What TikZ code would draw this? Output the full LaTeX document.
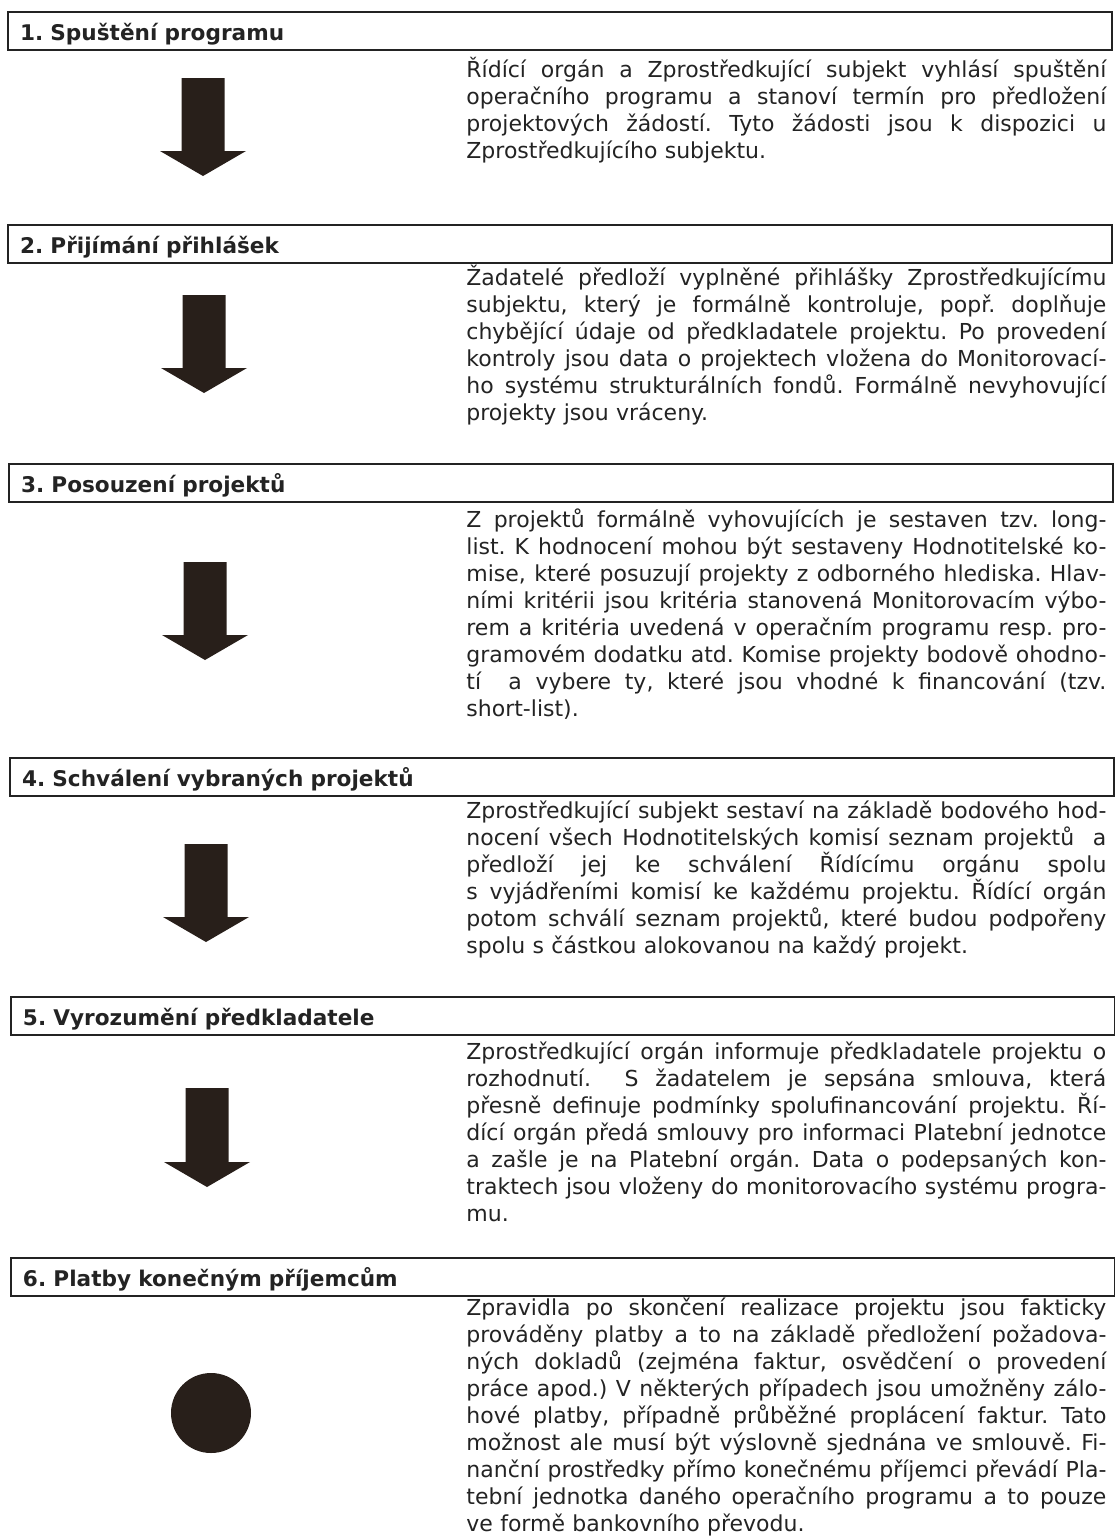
\documentclass[tikz,border=0pt]{standalone}
\usepackage{fontspec}
\setmainfont{DejaVu Sans}
\usetikzlibrary{positioning}

\definecolor{ink}{RGB}{35,35,35}
\definecolor{inkdark}{RGB}{40,31,26}

% one justified line of the step description
\newcommand{\jline}[1]{\makebox[320pt][s]{\spaceskip=0pt\xspaceskip=0pt #1}\\}

\begin{document}
\frenchspacing
\begin{tikzpicture}[
	x = 0.5pt, y = -0.5pt, % one unit = one pixel of the page
	hdr/.style={draw=ink, line width=1pt, anchor=north west, text width=540pt, align=left,
		inner xsep=6pt, inner ysep=0pt, minimum height=19pt, text height=10.5pt, text depth=1.5pt,
		font=\fontsize{10.8}{13}\selectfont\bfseries\frenchspacing, text=ink},
	txt/.style={anchor=base west, inner sep=0pt, text width=320pt, align=left,
		font=\fontsize{11}{13.5}\selectfont\frenchspacing, text=ink},
	blk/.style={fill=inkdark, draw=none},
	]
	\useasboundingbox (0,0) rectangle (1115,1539);

	% Step headers
	\node[hdr] (h1) at (7,11)   {1. Spuštění programu};
	\node[hdr] (h2) at (7,224)  {2. Přijímání přihlášek};
	\node[hdr] (h3) at (8,463)  {3. Posouzení projektů};
	\node[hdr] (h4) at (9,757)  {4. Schválení vybraných projektů};
	\node[hdr] (h5) at (10,996) {5. Vyrozumění předkladatele};
	\node[hdr] (h6) at (10,1257) {6. Platby konečným příjemcům};

	% Descriptions
	\node[txt] (t1) at (466,77) {%
		\jline{Řídící orgán a Zprostředkující subjekt vyhlásí spuštění}
		\jline{operačního programu a stanoví termín pro předložení}
		\jline{projektových žádostí. Tyto žádosti jsou k dispozici u}
		Zprostředkujícího subjektu.};
	\node[txt] (t2) at (466,285) {%
		\jline{Žadatelé předloží vyplněné přihlášky Zprostředkujícímu}
		\jline{subjektu, který je formálně kontroluje, popř. doplňuje}
		\jline{chybějící údaje od předkladatele projektu. Po provedení}
		\jline{kontroly jsou data o projektech vložena do Monitorovací-}
		\jline{ho systému strukturálních fondů. Formálně nevyhovující}
		projekty jsou vráceny.};
	\node[txt] (t3) at (466,527) {%
		\jline{Z projektů formálně vyhovujících je sestaven tzv. long-}
		\jline{list. K hodnocení mohou být sestaveny Hodnotitelské ko-}
		\jline{mise, které posuzují projekty z odborného hlediska. Hlav-}
		\jline{ními kritérii jsou kritéria stanovená Monitorovacím výbo-}
		\jline{rem a kritéria uvedená v operačním programu resp. pro-}
		\jline{gramovém dodatku atd. Komise projekty bodově ohodno-}
		\jline{tí\ \ a vybere ty, které jsou vhodné k financování (tzv.}
		short-list).};
	\node[txt] (t4) at (466,818) {%
		\jline{Zprostředkující subjekt sestaví na základě bodového hod-}
		\jline{nocení všech Hodnotitelských komisí seznam projektů\ \ a}
		\jline{předloží jej ke schválení Řídícímu orgánu spolu}
		\jline{s vyjádřeními komisí ke každému projektu. Řídící orgán}
		\jline{potom schválí seznam projektů, které budou podpořeny}
		spolu s částkou alokovanou na každý projekt.};
	\node[txt] (t5) at (466,1059) {%
		\jline{Zprostředkující orgán informuje předkladatele projektu o}
		\jline{rozhodnutí.\ \ S žadatelem je sepsána smlouva, která}
		\jline{přesně definuje podmínky spolufinancování projektu. Ří-}
		\jline{dící orgán předá smlouvy pro informaci Platební jednotce}
		\jline{a zašle je na Platební orgán. Data o podepsaných kon-}
		\jline{traktech jsou vloženy do monitorovacího systému progra-}
		mu.};
	\node[txt] (t6) at (466,1315) {%
		\jline{Zpravidla po skončení realizace projektu jsou fakticky}
		\jline{prováděny platby a to na základě předložení požadova-}
		\jline{ných dokladů (zejména faktur, osvědčení o provedení}
		\jline{práce apod.) V některých případech jsou umožněny zálo-}
		\jline{hové platby, případně průběžné proplácení faktur. Tato}
		\jline{možnost ale musí být výslovně sjednána ve smlouvě. Fi-}
		\jline{nanční prostředky přímo konečnému příjemci převádí Pla-}
		\jline{tební jednotka daného operačního programu a to pouze}
		ve formě bankovního převodu.};

	% Block arrows between the steps
	\foreach \ya/\yb/\xc in {78/176/203, 295/393/204, 562/660/205, 844/942/206, 1088/1187/207}
		\fill[blk] (\xc-21.5,\ya) -- (\xc+21.5,\ya) -- (\xc+21.5,\yb-25) -- (\xc+43,\yb-25)
			-- (\xc,\yb) -- (\xc-43,\yb-25) -- (\xc-21.5,\yb-25) -- cycle;

	% End of the process
	\node[circle, fill=inkdark, inner sep=0pt, minimum size=40pt] (stop) at (211,1413) {};
\end{tikzpicture}
\end{document}
